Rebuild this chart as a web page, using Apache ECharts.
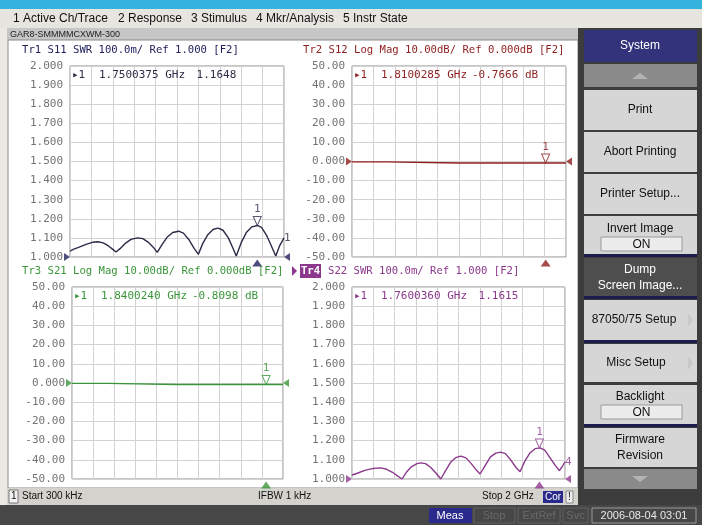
<!DOCTYPE html>
<html><head><meta charset="utf-8">
<script src="https://cdn.jsdelivr.net/npm/echarts@6/dist/echarts.min.js"></script>
<style>html,body{margin:0;padding:0;background:#ebe9e4}#c{width:702px;height:525px}</style>
</head><body><div id="c"></div><script>
// ---------- data ----------
const freqS11 = [0.0003,0.03,0.08,0.15,0.21,0.26,0.31,0.36,0.40,0.43,0.47,0.52,0.57,0.63,0.68,0.73,0.78,0.815,0.86,0.91,0.96,1.015,1.06,1.11,1.16,1.20,1.24,1.29,1.34,1.385,1.43,1.48,1.52,1.554,1.60,1.65,1.70,1.75,1.79,1.84,1.88,1.923,1.96,2.0];
const swrS11 = [1.030,1.040,1.050,1.066,1.077,1.080,1.074,1.058,1.040,1.026,1.045,1.073,1.092,1.100,1.096,1.078,1.050,1.024,1.065,1.105,1.128,1.135,1.125,1.092,1.045,1.014,1.070,1.118,1.145,1.151,1.140,1.100,1.050,1.005,1.075,1.130,1.158,1.165,1.155,1.110,1.060,1.005,1.060,1.100];
const freqS12 = [0.0003,0.33,0.335,1.0,1.81,2.0];
const magS12 = [-0.2,-0.2,-0.75,-0.76,-0.7666,-0.77];
const freqS21 = [0.0003,0.34,0.345,1.0,1.84,2.0];
const magS21 = [-0.2,-0.2,-0.80,-0.80,-0.8098,-0.81];
const freqS22 = [0.0003,0.05,0.12,0.2,0.266,0.32,0.38,0.43,0.47,0.51,0.56,0.61,0.647,0.69,0.74,0.79,0.834,0.88,0.93,0.98,1.022,1.07,1.12,1.17,1.203,1.25,1.30,1.35,1.397,1.44,1.49,1.54,1.578,1.62,1.67,1.72,1.766,1.81,1.86,1.91,1.947,1.975,2.0];
const swrS22 = [1.021,1.030,1.045,1.055,1.058,1.052,1.035,1.015,1.000,1.035,1.065,1.080,1.084,1.080,1.060,1.030,1.000,1.045,1.090,1.113,1.119,1.110,1.080,1.045,1.026,1.070,1.115,1.135,1.140,1.132,1.100,1.060,1.038,1.090,1.135,1.158,1.162,1.150,1.110,1.070,1.044,1.065,1.090];
const markerFreq = [1.7500375, 1.8100285, 1.8400240, 1.7600360];
const markerVal = [1.1648, -0.7666, -0.8098, 1.1615];
const markerFreqText = ['1.7500375 GHz','1.8100285 GHz','1.8400240 GHz','1.7600360 GHz'];
const markerValText = [' 1.1648','-0.7666 dB','-0.8098 dB',' 1.1615'];
const traceHeaders = ['Tr1 S11 SWR 100.0m/ Ref 1.000 [F2]','Tr2 S12 Log Mag 10.00dB/ Ref 0.000dB [F2]','Tr3 S21 Log Mag 10.00dB/ Ref 0.000dB [F2]','S22 SWR 100.0m/ Ref 1.000 [F2]'];
const refLevels = [1.0, 0, 0, 1.0];
const menuItems = ['1 Active Ch/Trace','2 Response','3 Stimulus','4 Mkr/Analysis','5 Instr State'];
const softkeys = ['System','Print','Abort Printing','Printer Setup...','Invert Image','Dump\nScreen Image...','87050/75 Setup','Misc Setup','Backlight','Firmware\nRevision'];

// ---------- layout ----------
const colors = ['#2c2c48','#8e1e1e','#3a963a','#8c388c'];
const hdrColors = ['#22225e','#8e1e1e','#3a963a','#8c388c'];
const grids = [
  {left:70, top:66, width:214, height:191},
  {left:352, top:66, width:214, height:191},
  {left:72, top:287, width:211, height:192},
  {left:352, top:287, width:213, height:192}
];
const swrAxis = {min:1, max:2, interval:0.1, fmt:v=>v.toFixed(3)};
const dbAxis = {min:-50, max:50, interval:10, fmt:v=>Math.abs(v)<1e-9?'0.000':v.toFixed(2)};
const yDefs = [swrAxis, dbAxis, dbAxis, swrAxis];
const mono = 'DejaVu Sans Mono';
const ui = 'Liberation Sans';

const zip = (a,b)=>a.map((x,i)=>[x,b[i]]);
const traceData = [zip(freqS11,swrS11), zip(freqS12,magS12), zip(freqS21,magS21), zip(freqS22,swrS22)];

const option = {
  animation:false,
  grid: grids.map(g=>Object.assign({show:true, borderColor:'#8c8c8c', borderWidth:1, backgroundColor:'#fff'}, g)),
  xAxis: grids.map((g,i)=>({type:'value', gridIndex:i, min:0, max:2, interval:0.2,
    axisLine:{show:false}, axisTick:{show:false}, axisLabel:{show:false},
    splitLine:{show:true, lineStyle:{color:'#d2d2d2', width:1}}})),
  yAxis: yDefs.map((d,i)=>({type:'value', gridIndex:i, min:d.min, max:d.max, interval:d.interval,
    axisLine:{show:false}, axisTick:{show:false},
    axisLabel:{formatter:d.fmt, color:'#737373', fontFamily:mono, fontSize:11, margin:7},
    splitLine:{show:true, lineStyle:{color:'#d2d2d2', width:1}}})),
  series: []
};

traceData.forEach((d,i)=>{
  option.series.push({type:'line', xAxisIndex:i, yAxisIndex:i, data:d, showSymbol:false,
    lineStyle:{color:colors[i], width:1.4}, z:3});
  option.series.push({type:'scatter', xAxisIndex:i, yAxisIndex:i, data:[[markerFreq[i], markerVal[i]]],
    symbol:'path://M0,0 L10,0 L5,10 Z', symbolSize:[8,9], symbolOffset:[0,'-50%'],
    itemStyle:{color:'#fff', borderColor:colors[i], borderWidth:1}, z:5,
    label:{show:true, formatter:'1', position:'top', distance:1, color:colors[i], fontFamily:mono, fontSize:11}});
  option.series.push({type:'scatter', xAxisIndex:i, yAxisIndex:i, clip:false,
    data:[[markerFreq[i], yDefs[i].min]], symbol:'triangle', symbolSize:[10,7], symbolOffset:[0,6],
    itemStyle:{color: i===0 ? '#22225e' : colors[i]}, z:5});
  option.series.push({type:'scatter', xAxisIndex:i, yAxisIndex:i, clip:false,
    data:[[0, refLevels[i]]], symbol:'triangle', symbolSize:[8,6], symbolRotate:-90, symbolOffset:[-3,0],
    itemStyle:{color: i===0 ? '#22225e' : colors[i]}, z:5});
  option.series.push({type:'scatter', xAxisIndex:i, yAxisIndex:i, clip:false,
    data:[[2, refLevels[i]]], symbol:'triangle', symbolSize:[8,6], symbolRotate:90, symbolOffset:[3,0],
    itemStyle:{color: i===0 ? '#22225e' : colors[i]}, z:5});
});
option.series.push({type:'scatter', xAxisIndex:0, yAxisIndex:0, clip:false, data:[[2, swrS11[swrS11.length-1]]],
  symbolSize:0, label:{show:true, formatter:'1', position:'right', distance:0, color:colors[0], fontFamily:mono, fontSize:11}});
option.series.push({type:'scatter', xAxisIndex:3, yAxisIndex:3, clip:false, data:[[2, swrS22[swrS22.length-1]]],
  symbolSize:0, label:{show:true, formatter:'4', position:'right', distance:0, color:colors[3], fontFamily:mono, fontSize:11}});

// ---------- chrome (graphic) ----------
const G = [];
const rect = (x,y,w,h,fill,stroke,z)=>G.push({type:'rect', shape:{x,y,width:w,height:h}, style:{fill, stroke:stroke||null, lineWidth:stroke?1:0}, z:z||0, silent:true});
const text = (x,y,t,fill,font,align,z)=>G.push({type:'text', x, y, style:{text:t, fill, font, align:align||'left', textAlign:align||'left', verticalAlign:'middle', textVerticalAlign:'middle', lineHeight:16}, z:z||10, silent:true});
const tri = (pts,fill)=>G.push({type:'polygon', shape:{points:pts}, style:{fill}, z:10, silent:true});

rect(0,0,702,9,'#35b2dd');
rect(0,9,702,19,'#e7e5df');
const menuX = [13,118,191,256,343];
menuItems.forEach((m,i)=>text(menuX[i],18.5,m,'#111','12px '+ui));
rect(7,28,571,12,'#c6c6c6');
text(10,34.5,'GAR8-SMMMMCXWM-300','#222','9px '+ui);
rect(8,40,570,448,'#ffffff','#8a8a8a');

// headers
const hdrPos = [[22,50],[303,50],[22,271],[328,271]];
traceHeaders.forEach((h,i)=>text(hdrPos[i][0],hdrPos[i][1],h,hdrColors[i],'10.6px '+mono));
tri([[292,266],[292,276],[297,271]],'#8c388c');
rect(300,264,21,14,'#8c388c');
text(310.5,271,'Tr4','#fff','bold 10.6px '+mono,'center');
// marker readouts
grids.forEach((g,i)=>{
  const y = g.top+9;
  text(g.left+2,y,'\u25B81',colors[i],'11px '+mono);
  text(g.left+29,y,markerFreqText[i],colors[i],'11px '+mono);
  text(g.left+120,y,markerValText[i],colors[i],'11px '+mono);
});

// status bar
rect(7,488,571,17,'#d4d2cc');
rect(9,490,9,13,'#f4f4f4','#777');
text(11,496.5,'1','#111','10px '+ui);
text(22,496.5,'Start 300 kHz','#111','10px '+ui);
text(258,496.5,'IFBW 1 kHz','#111','10px '+ui);
text(482,496.5,'Stop 2 GHz','#111','10px '+ui);
rect(543,491,20,12,'#2a2a8c');
text(553,497,'Cor','#fff','10px '+ui,'center');
rect(566,491,7,12,'#eeeeee','#888');
text(569.5,497,'!','#111','10px '+ui,'center');
// bottom bar
rect(0,505,702,20,'#474747');
rect(429,508,43,15,'#2a2a8c');
text(450,515.5,'Meas','#fff','11px '+ui,'center');
rect(474,508,41,15,'#474747','#606060');
text(494,515.5,'Stop','#6a6a6a','11px '+ui,'center');
rect(518,508,42,15,'#474747','#606060');
text(539,515.5,'ExtRef','#6a6a6a','11px '+ui,'center');
rect(563,508,25,15,'#474747','#606060');
text(575.5,515.5,'Svc','#6a6a6a','11px '+ui,'center');
rect(592,508,104,15,'#474747','#9a9a9a');
text(644,515.5,'2006-08-04 03:01','#e8e8e8','11px '+ui,'center');

// sidebar
rect(578,28,124,477,'#3c3c3c');
const navySep = (y)=>rect(584,y,113,3,'#1c1c4e');
rect(584,30,113,32,'#33337c');
text(640,46,softkeys[0],'#fff','12px '+ui,'center');
rect(584,64,113,23,'#8a8a8a');
tri([[632,79],[648,79],[640,73]],'#b4b4b4');
const btn = (y,h,fill)=>rect(584,y,113,h,fill||'#d6d6d6');
btn(90,40); text(640,110,softkeys[1],'#111','12px '+ui,'center');
btn(132,40); text(640,152,softkeys[2],'#111','12px '+ui,'center');
btn(174,40); text(640,194,softkeys[3],'#111','12px '+ui,'center');
btn(216,38); text(640,229,softkeys[4],'#111','12px '+ui,'center');
rect(601,237,81,14,'#ececec','#9a9a9a'); text(641.5,244.5,'ON','#111','12px '+ui,'center');
navySep(254);
btn(258,38,'#4e4e4e'); text(640,278,softkeys[5],'#fff','12px '+ui,'center');
navySep(296);
btn(300,40); text(634,320,softkeys[6],'#111','12px '+ui,'center');
tri([[688,313],[688,327],[693,320]],'#c8c8c8');
navySep(340);
btn(344,38); text(636,363,softkeys[7],'#111','12px '+ui,'center');
tri([[688,356],[688,370],[693,363]],'#c8c8c8');
btn(385,39); text(640,397,softkeys[8],'#111','12px '+ui,'center');
rect(601,405,81,14,'#ececec','#9a9a9a'); text(641.5,412.5,'ON','#111','12px '+ui,'center');
navySep(424);
btn(428,39); text(640,447.5,softkeys[9],'#111','12px '+ui,'center');
rect(584,469,113,20,'#8a8a8a');
tri([[632,476],[648,476],[640,482]],'#b4b4b4');

option.graphic = {elements: G.map(e=>Object.assign(e, {z: e.z===0 ? -10 : e.z}))};

const chart = echarts.init(document.getElementById('c'));
chart.setOption(option);
</script></body></html>
